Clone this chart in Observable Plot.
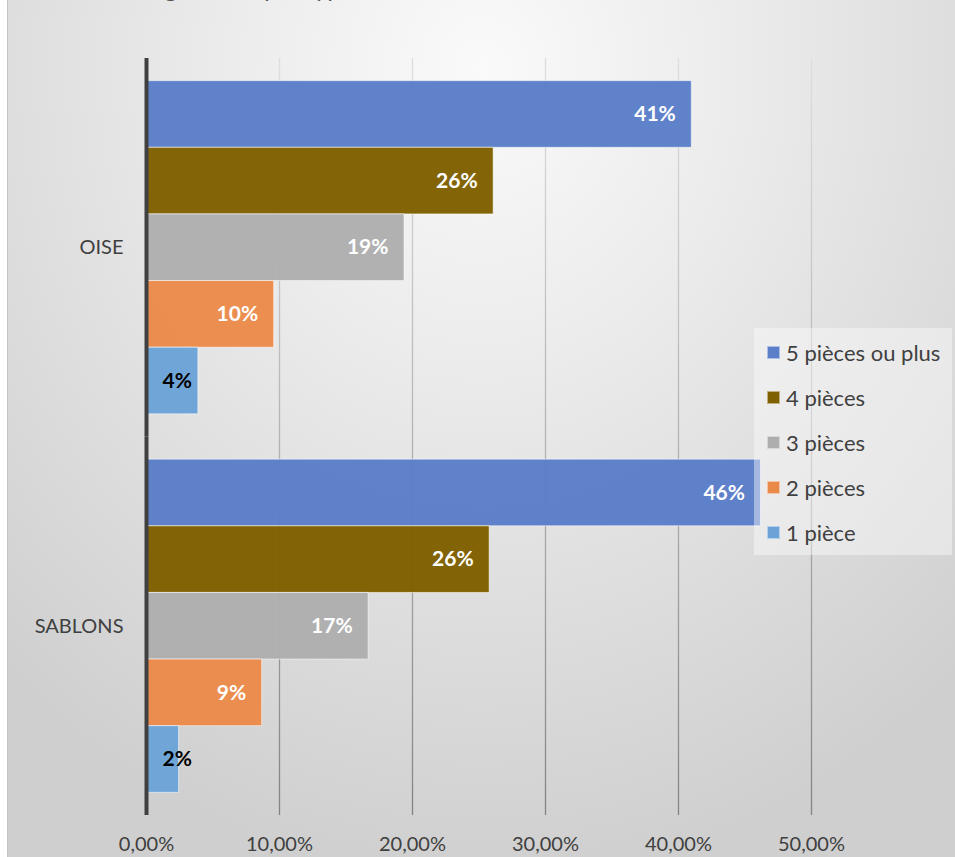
<!DOCTYPE html>
<html>
<head>
<meta charset="utf-8">
<script src="https://cdn.jsdelivr.net/npm/d3@7"></script>
<script src="https://cdn.jsdelivr.net/npm/@observablehq/plot@0.6"></script>
<style>
  html, body { margin: 0; padding: 0; background: #ffffff; }
  #wrap { position: relative; width: 955px; height: 857px; overflow: hidden; font-family: Lato, "Noto Sans", sans-serif; }
  #bg { position: absolute; left: 7px; top: 0; width: 948px; height: 857px;
        border-left: 1.5px solid #c4c4c4;
        background: radial-gradient(ellipse 75% 95% at 50% 8%, #fafafa 0%, #ececec 35%, #cfcfcf 100%); }
  #title { position: absolute; left: 102px; top: -25px; font-size: 25px; line-height: 25px; color: #595959; white-space: nowrap; }
  #chart { position: absolute; left: 0; top: 0; }
  #legend { position: absolute; left: 754px; top: 328px; width: 198px; height: 227px;
            background: rgba(250,250,250,0.45); box-sizing: border-box; padding-top: 2px; }
  .item { height: 45px; display: flex; align-items: center; font-size: 22px; color: #404040; }
  .sw { width: 13px; height: 13px; margin-left: 13px; margin-right: 6px; box-sizing: border-box; border: 1px solid rgba(255,255,255,0.5); }
</style>
</head>
<body>
<div id="wrap">
  <div id="bg"></div>
  <div id="title">Les logements par type</div>
  <div id="chart"></div>
  <div id="legend"></div>
</div>
<script>
const regions = ["OISE", "SABLONS"];
const types = ["5 pièces ou plus", "4 pièces", "3 pièces", "2 pièces", "1 pièce"];
const oise = [41.0, 26.1, 19.4, 9.6, 3.9];
const sablons = [46.2, 25.8, 16.7, 8.7, 2.45];
const colors = ["#5a7ec8", "#7f6000", "#aeaeae", "#ea8a4a", "#6ca3d7"];
const labelColors = ["white", "white", "white", "white", "black"];
const xTicks = [0, 10, 20, 30, 40, 50];

const series = [oise, sablons];
const data = regions.flatMap((r, i) => types.map((t, j) => ({region: r, type: t, value: series[i][j], lc: labelColors[j]})));

const fmtTick = d => d.toFixed(2).replace(".", ",") + "%";
const fmtLabel = d => Math.round(d) + "%";

const plot = Plot.plot({
  width: 955,
  height: 857,
  marginLeft: 146,
  marginRight: 144,
  marginTop: 58,
  marginBottom: 42,
  style: {fontFamily: "Lato, 'Noto Sans', sans-serif", fontSize: "20px", color: "#404040", background: "transparent", overflow: "visible"},
  x: {domain: [0, 50], ticks: xTicks, tickFormat: fmtTick, tickSize: 0, tickPadding: 21, label: null},
  y: {domain: types, paddingInner: 0, paddingOuter: 0.34, round: false, axis: null},
  fy: {domain: regions, padding: 0, round: false, axis: "left", label: null, tickSize: 0, tickPadding: 23},
  color: {domain: types, range: colors},
  marks: [
    Plot.ruleX(xTicks.slice(1), {stroke: "url(#gridGrad)", strokeWidth: 1.3}),
    Plot.barX(data, {x: "value", y: "type", fy: "region", fill: "type", fillOpacity: 0.97, stroke: "white", strokeOpacity: 0.55, strokeWidth: 1}),
    Plot.ruleX([0], {stroke: "#404040", strokeWidth: 4}),
    Plot.text(data.filter(d => d.value >= 5), {x: "value", y: "type", fy: "region", text: d => fmtLabel(d.value), textAnchor: "end", dx: -16, fill: "lc", fontWeight: "bold", fontSize: 21}),
    Plot.text(data.filter(d => d.value < 5), {x: 0, y: "type", fy: "region", text: d => fmtLabel(d.value), textAnchor: "start", dx: 16, fill: "lc", fontWeight: "bold", fontSize: 21})
  ]
});

document.getElementById("chart").appendChild(plot);

// vertical gradient on grid lines, continuous across both facets
const svg = d3.select(plot);
const defs = svg.insert("defs", ":first-child");
const y0 = 58, y1 = 815;
let n = 0;
svg.selectAll('[stroke="url(#gridGrad)"]').each(function () {
  const m = this.getCTM();
  const off = m ? m.f : 0;
  const id = "gridGrad" + (n++);
  const g = defs.append("linearGradient").attr("id", id).attr("gradientUnits", "userSpaceOnUse")
    .attr("x1", 0).attr("y1", y0 - off).attr("x2", 0).attr("y2", y1 - off);
  g.append("stop").attr("offset", "0%").attr("stop-color", "#dedede");
  g.append("stop").attr("offset", "45%").attr("stop-color", "#b8b8b8");
  g.append("stop").attr("offset", "100%").attr("stop-color", "#838383");
  d3.select(this).attr("stroke", "url(#" + id + ")");
});

const legend = d3.select("#legend");
types.forEach((t, i) => {
  const it = legend.append("div").attr("class", "item");
  it.append("div").attr("class", "sw").style("background", colors[i]);
  it.append("span").text(t);
});
</script>
</body>
</html>
